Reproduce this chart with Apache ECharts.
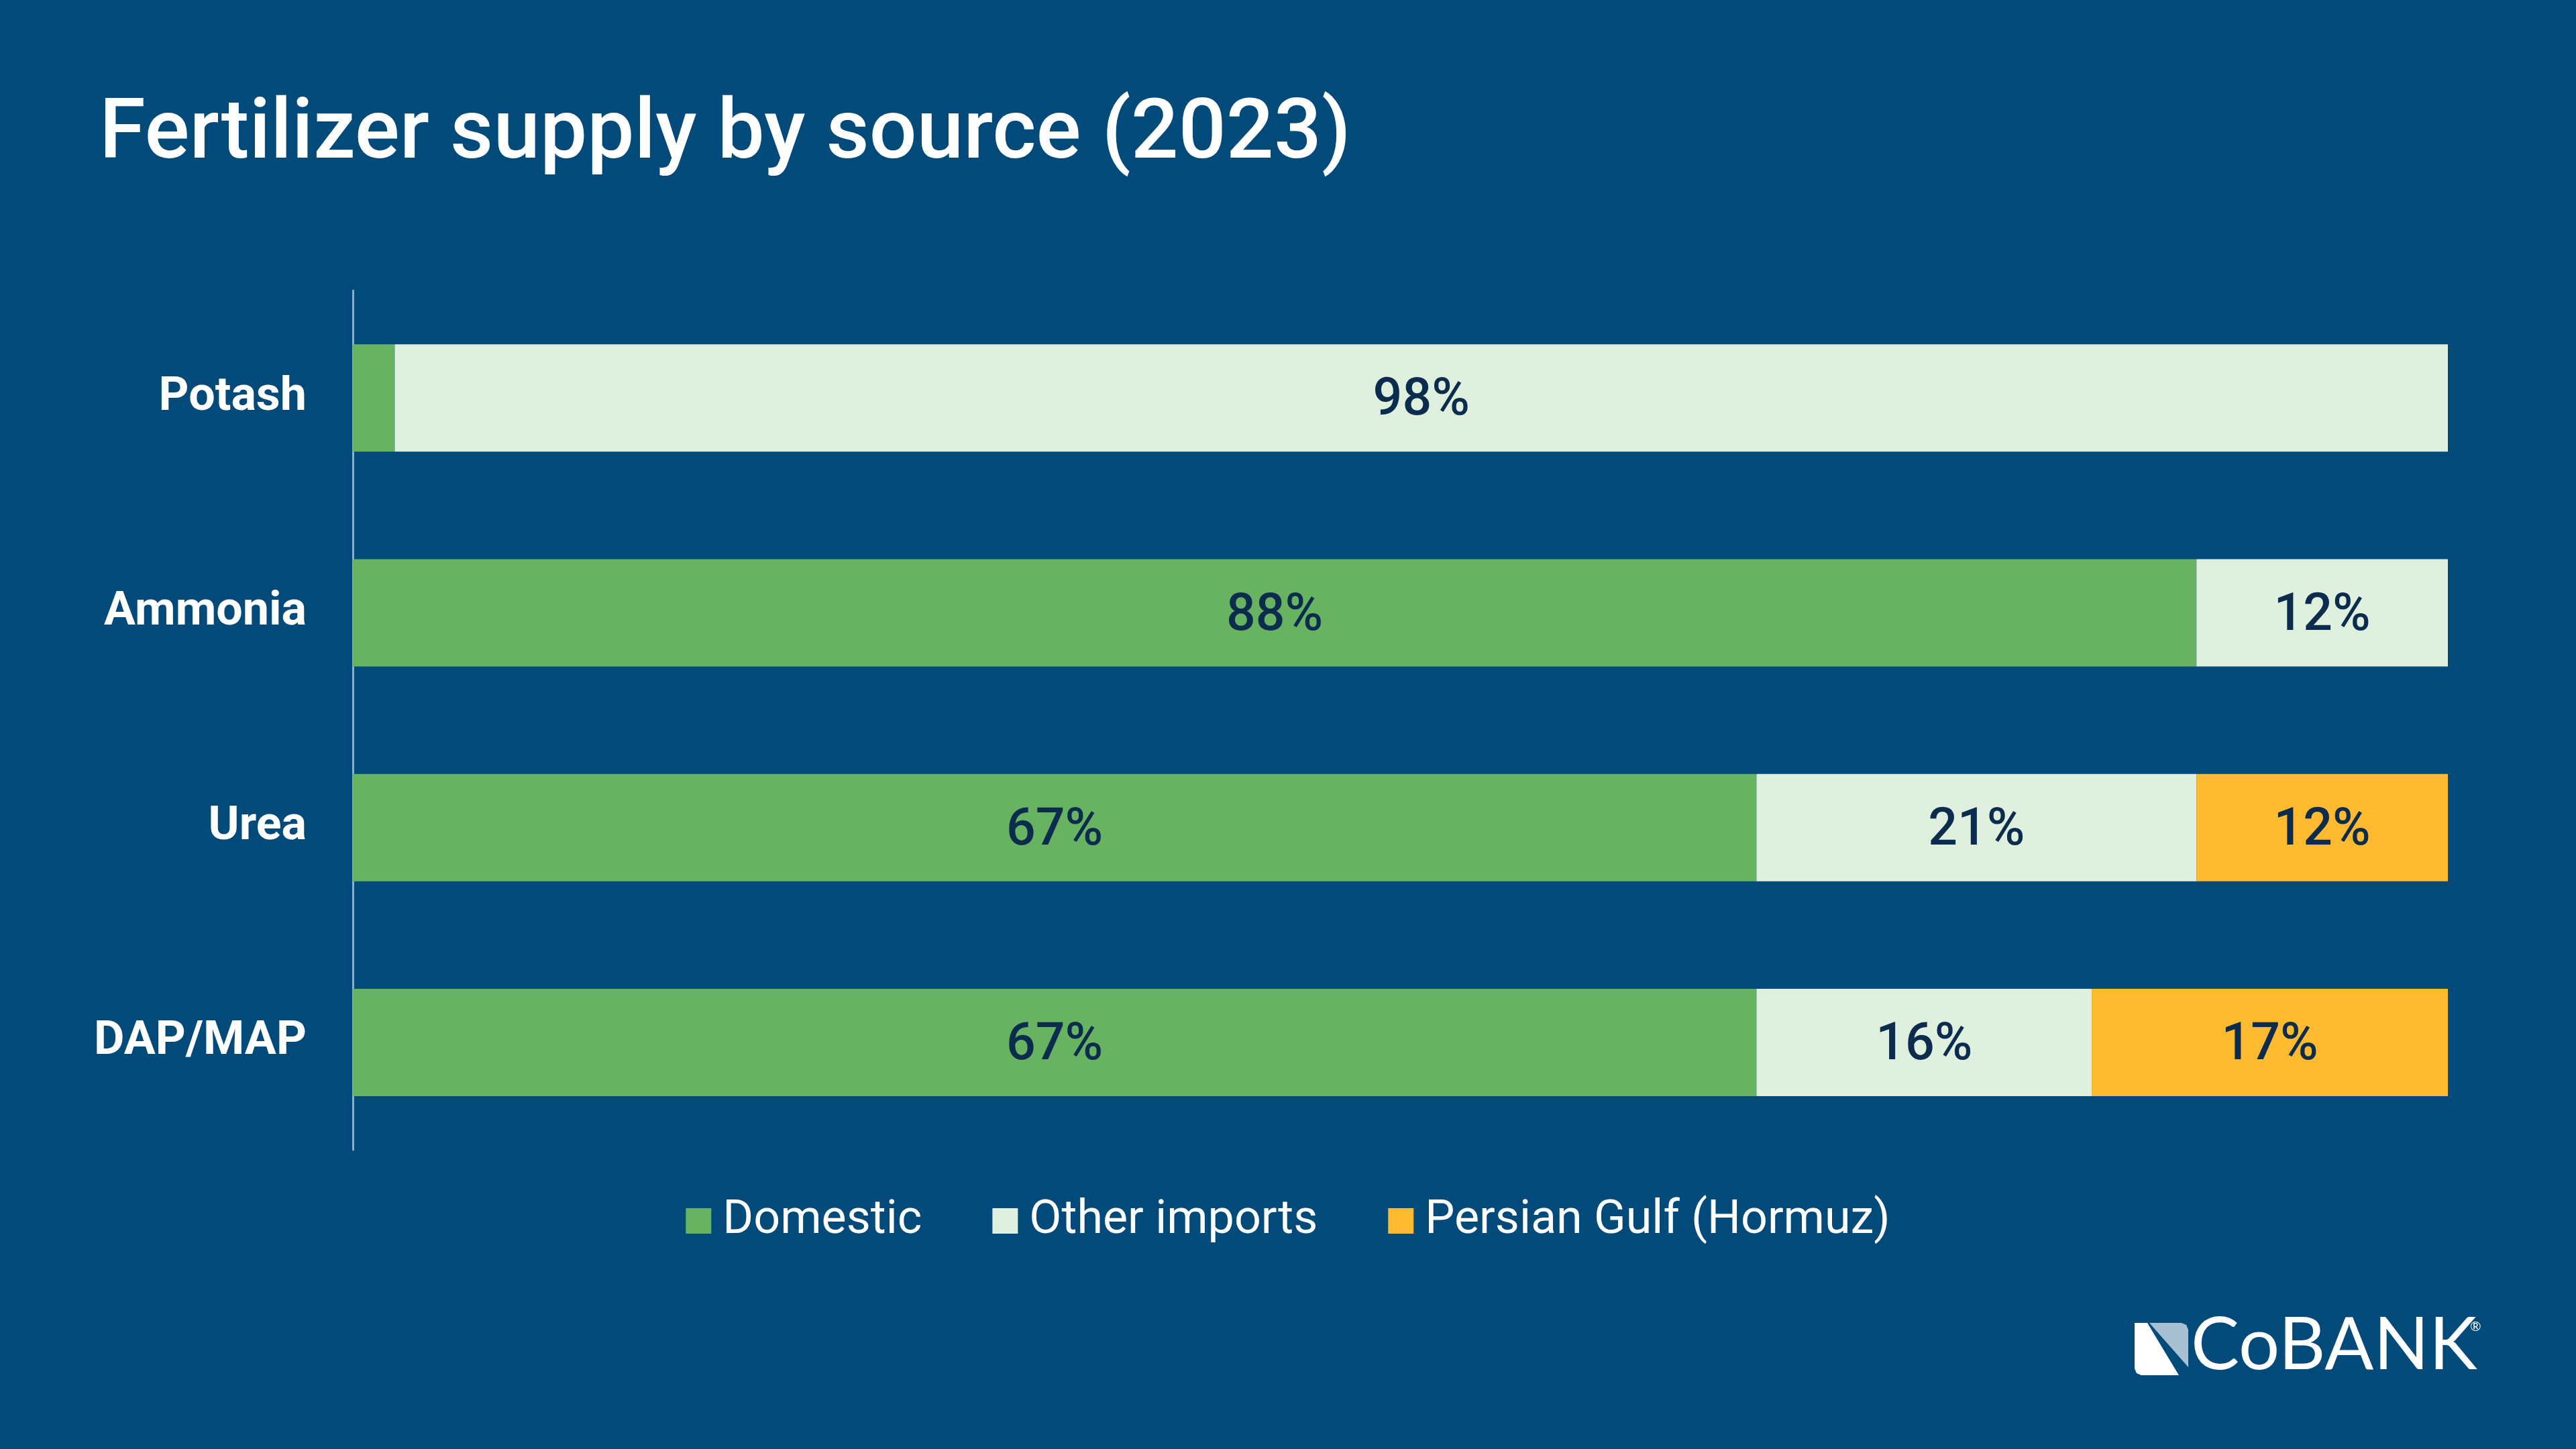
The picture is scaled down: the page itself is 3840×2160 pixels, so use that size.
<!DOCTYPE html>
<html>
<head>
<meta charset="utf-8">
<script src="https://cdn.jsdelivr.net/npm/echarts@6/dist/echarts.min.js"></script>
<style>
  html, body { margin: 0; padding: 0; background: #014a7a; }
  #chart { width: 3840px; height: 2160px; }
</style>
</head>
<body>
<div id="chart"></div>
<script>
const categories = ['Potash', 'Ammonia', 'Urea', 'DAP/MAP'];
const domestic = [2, 88, 67, 67];
const otherImports = [98, 12, 21, 16];
const persianGulf = [0, 0, 12, 17];
const seriesNames = ['Domestic', 'Other imports', 'Persian Gulf (Hormuz)'];
const seriesColors = ['#67b361', '#e0f0de', '#ffba30'];

const FONT = 'Roboto, "Noto Sans", sans-serif';
const chart = echarts.init(document.getElementById('chart'), null, { renderer: 'canvas' });

function labelCfg() {
  return {
    show: true,
    position: 'inside',
    offset: [0, 6],
    color: '#0b2c4d',
    fontFamily: FONT,
    fontWeight: 500,
    fontSize: 77,
    formatter: p => (p.value >= 5 ? p.value + '%' : '')
  };
}

const dataSets = [domestic, otherImports, persianGulf];

chart.setOption({
  backgroundColor: '#014a7a',
  animation: false,
  title: {
    text: 'Fertilizer supply by source (2023)',
    left: 148,
    top: 141,
    padding: 0,
    textStyle: {
      color: '#ffffff',
      fontFamily: FONT,
      fontWeight: 500,
      fontSize: 125,
      lineHeight: 125
    }
  },
  legend: {
    data: seriesNames,
    left: 'center',
    top: 1780,
    icon: 'rect',
    itemWidth: 38,
    itemHeight: 38,
    itemGap: 105,
    textStyle: {
      color: '#ffffff',
      fontFamily: FONT,
      fontWeight: 400,
      fontSize: 70,
      padding: [0, 0, 0, 12]
    }
  },
  grid: {
    left: 526,
    right: 191,
    top: 433,
    bottom: 446,
    containLabel: false
  },
  xAxis: {
    type: 'value',
    min: 0,
    max: 100,
    show: false
  },
  yAxis: {
    type: 'category',
    data: categories,
    inverse: true,
    axisLine: { show: true, lineStyle: { color: '#93abc0', width: 3 } },
    axisTick: { show: false },
    splitLine: { show: false },
    axisLabel: {
      color: '#ffffff',
      fontFamily: FONT,
      fontWeight: 700,
      fontSize: 70,
      margin: 69,
      lineHeight: 90,
      verticalAlign: 'middle',
      padding: [12, 0, 0, 0]
    }
  },
  series: seriesNames.map((name, i) => ({
    name: name,
    type: 'bar',
    stack: 'total',
    barWidth: 160,
    data: dataSets[i],
    itemStyle: { color: seriesColors[i] },
    label: labelCfg(),
    emphasis: { disabled: true }
  })),
  graphic: [
    {
      type: 'polygon',
      shape: { points: [[3182, 1972], [3201, 1972], [3248, 2050], [3192, 2050], [3185, 2047], [3182, 2040]] },
      style: { fill: '#ffffff' }
    },
    {
      type: 'polygon',
      shape: { points: [[3204, 1972], [3252, 1972], [3259, 1975], [3262, 1982], [3262, 2038]] },
      style: { fill: '#a9c0d3' }
    },
    {
      type: 'text',
      left: 3266,
      top: 1952,
      style: {
        text: 'CoBANK',
        fill: '#ffffff',
        font: '400 108px Lato, "Noto Sans", sans-serif'
      }
    },
    {
      type: 'text',
      left: 3682,
      top: 1968,
      style: {
        text: '®',
        fill: '#ffffff',
        font: '400 20px Lato, sans-serif'
      }
    }
  ]
});
</script>
</body>
</html>
